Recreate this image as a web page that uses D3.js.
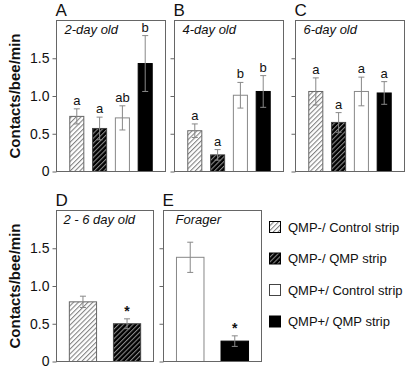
<!DOCTYPE html>
<html>
<head>
<meta charset="utf-8">
<script src="https://cdn.jsdelivr.net/npm/d3@7"></script>
<style>
  body { margin: 0; background: #fff; }
  text { font-family: "Liberation Sans", Arial, sans-serif; }
</style>
</head>
<body>
<div id="chart"></div>
<script>
// groups shown in the legend, in bar order
const groups = ["QMP-/ Control strip", "QMP-/ QMP strip", "QMP+/ Control strip", "QMP+/ QMP strip"];

const day2Means = [0.73, 0.57, 0.71, 1.43];
const day2Se = [0.10, 0.15, 0.16, 0.37];
const day2Letters = ["a", "a", "ab", "b"];

const day4Means = [0.54, 0.22, 1.01, 1.06];
const day4Se = [0.09, 0.07, 0.17, 0.21];
const day4Letters = ["a", "a", "b", "b"];

const day6Means = [1.06, 0.65, 1.06, 1.04];
const day6Se = [0.18, 0.13, 0.19, 0.15];
const day6Letters = ["a", "a", "a", "a"];

const pooledGroups = [0, 1];
const pooledMeans = [0.79, 0.50];
const pooledSe = [0.075, 0.065];
const pooledMarks = ["", "*"];

const foragerGroups = [2, 3];
const foragerMeans = [1.38, 0.27];
const foragerSe = [0.20, 0.07];
const foragerMarks = ["", "*"];

const yTicks = [0, 0.5, 1.0, 1.5];

const width = 410, height = 367;
const svg = d3.select("#chart").append("svg")
  .attr("width", width)
  .attr("height", height);

// hatch patterns
const defs = svg.append("defs");
function hatch(id, bg, line) {
  const p = defs.append("pattern")
    .attr("id", id)
    .attr("patternUnits", "userSpaceOnUse")
    .attr("width", 3.4)
    .attr("height", 3.4)
    .attr("patternTransform", "rotate(45)");
  p.append("rect").attr("width", 3.4).attr("height", 3.4).attr("fill", bg);
  p.append("line")
    .attr("x1", 0.6).attr("y1", 0).attr("x2", 0.6).attr("y2", 3.4)
    .attr("stroke", line).attr("stroke-width", 0.8);
}
hatch("hatchLight", "#fff", "#555");
hatch("hatchDark", "#000", "#bbb");

const fills = ["url(#hatchLight)", "url(#hatchDark)", "#fff", "#000"];
const strokes = ["#666", "#444", "#888", "#000"];

function drawPanel(opts) {
  const { x0, x1, top, bottom, idx, means, se, marks, letter, title, titleDx, showLabels, pInner, pOuter } = opts;

  const y = d3.scaleLinear().domain([0, 2]).range([bottom, top]);
  const x = d3.scaleBand()
    .domain(idx)
    .range([x0, x1])
    .paddingInner(pInner)
    .paddingOuter(pOuter);

  const g = svg.append("g");

  // y axis
  const axis = d3.axisLeft(y)
    .tickValues(yTicks)
    .tickSize(4)
    .tickPadding(3)
    .tickFormat(d => showLabels ? (d === 0 ? "0" : d3.format(".1f")(d)) : "");
  const ax = g.append("g")
    .attr("transform", `translate(${x0},0)`)
    .call(axis);
  ax.select(".domain").remove();
  ax.selectAll(".tick line").attr("stroke", "#666");
  ax.selectAll(".tick text")
    .attr("fill", "#111")
    .style("font-size", "14px")
    .style("font-family", "Liberation Sans, Arial, sans-serif");

  // bars
  const data = idx.map((k, i) => ({ k, m: means[i], s: se[i], mark: marks[i] }));

  g.selectAll(".bar")
    .data(data)
    .enter().append("rect")
    .attr("x", d => x(d.k) + 0.5)
    .attr("y", d => y(d.m))
    .attr("width", x.bandwidth() - 1)
    .attr("height", d => y(0) - y(d.m))
    .attr("fill", d => fills[d.k])
    .attr("stroke", d => strokes[d.k])
    .attr("stroke-width", 1);

  // error bars
  const cx = d => x(d.k) + x.bandwidth() / 2;
  const eb = g.selectAll(".err").data(data).enter().append("g")
    .attr("stroke", "#888").attr("stroke-width", 1);
  eb.append("line")
    .attr("x1", cx).attr("x2", cx)
    .attr("y1", d => y(d.m + d.s)).attr("y2", d => y(d.m - d.s));
  eb.append("line")
    .attr("x1", d => cx(d) - 3).attr("x2", d => cx(d) + 3)
    .attr("y1", d => y(d.m + d.s)).attr("y2", d => y(d.m + d.s));
  eb.append("line")
    .attr("x1", d => cx(d) - 3).attr("x2", d => cx(d) + 3)
    .attr("y1", d => y(d.m - d.s)).attr("y2", d => y(d.m - d.s));

  // significance letters / stars
  g.selectAll(".mark")
    .data(data)
    .enter().append("text")
    .attr("x", cx)
    .attr("y", d => y(d.m + d.s) - (d.mark === "*" ? 3 : 4))
    .attr("text-anchor", "middle")
    .style("font-size", d => d.mark === "*" ? "14px" : "13px")
    .style("font-weight", d => d.mark === "*" ? "bold" : "normal")
    .attr("fill", "#111")
    .text(d => d.mark);

  // frame
  g.append("rect")
    .attr("x", x0).attr("y", top)
    .attr("width", x1 - x0).attr("height", bottom - top)
    .attr("fill", "none")
    .attr("stroke", "#666")
    .attr("stroke-width", 1);

  // panel letter
  svg.append("text")
    .attr("x", x0 - 1).attr("y", top - 5)
    .style("font-size", "17px")
    .attr("fill", "#111")
    .text(letter);

  // panel title
  svg.append("text")
    .attr("x", x0 + titleDx).attr("y", top + 13)
    .style("font-size", "13px")
    .style("font-style", "italic")
    .attr("fill", "#111")
    .text(title);
}

const topOpts = { top: 20.5, bottom: 171.5, pInner: 0.34, pOuter: 0.56 };
drawPanel({ ...topOpts, x0: 56.5, x1: 165.5, idx: [0, 1, 2, 3], means: day2Means, se: day2Se, marks: day2Letters,
  letter: "A", title: "2-day old", titleDx: 8, showLabels: true });
drawPanel({ ...topOpts, x0: 174.5, x1: 283.5, idx: [0, 1, 2, 3], means: day4Means, se: day4Se, marks: day4Letters,
  letter: "B", title: "4-day old", titleDx: 8, showLabels: false });
drawPanel({ ...topOpts, x0: 295.5, x1: 404.5, idx: [0, 1, 2, 3], means: day6Means, se: day6Se, marks: day6Letters,
  letter: "C", title: "6-day old", titleDx: 8, showLabels: false });

const botOpts = { top: 210.5, bottom: 361.5, pInner: 0.36, pOuter: 0.28 };
drawPanel({ ...botOpts, x0: 56.5, x1: 153.5, idx: pooledGroups, means: pooledMeans, se: pooledSe, marks: pooledMarks,
  letter: "D", title: "2 - 6 day old", titleDx: 7, showLabels: true });
drawPanel({ ...botOpts, x0: 163.5, x1: 261.5, idx: foragerGroups, means: foragerMeans, se: foragerSe, marks: foragerMarks,
  letter: "E", title: "Forager", titleDx: 12, showLabels: false });

// y axis titles
[96, 286].forEach(cy => {
  svg.append("text")
    .attr("transform", `translate(20,${cy}) rotate(-90)`)
    .attr("text-anchor", "middle")
    .style("font-size", "15px")
    .style("font-weight", "bold")
    .attr("fill", "#111")
    .text("Contacts/bee/min");
});

// legend
const legend = svg.append("g").attr("transform", "translate(269,221)");
const rows = legend.selectAll("g")
  .data(groups)
  .enter().append("g")
  .attr("transform", (d, i) => `translate(0,${i * 31.5})`);
rows.append("rect")
  .attr("x", 0.5).attr("y", 0.5)
  .attr("width", 11).attr("height", 11)
  .attr("fill", (d, i) => fills[i])
  .attr("stroke", (d, i) => i === 2 ? "#444" : "#000")
  .attr("stroke-width", 1);
rows.append("text")
  .attr("x", 19).attr("y", 10.5)
  .style("font-size", "13px")
  .attr("fill", "#111")
  .text(d => d);
</script>
</body>
</html>
